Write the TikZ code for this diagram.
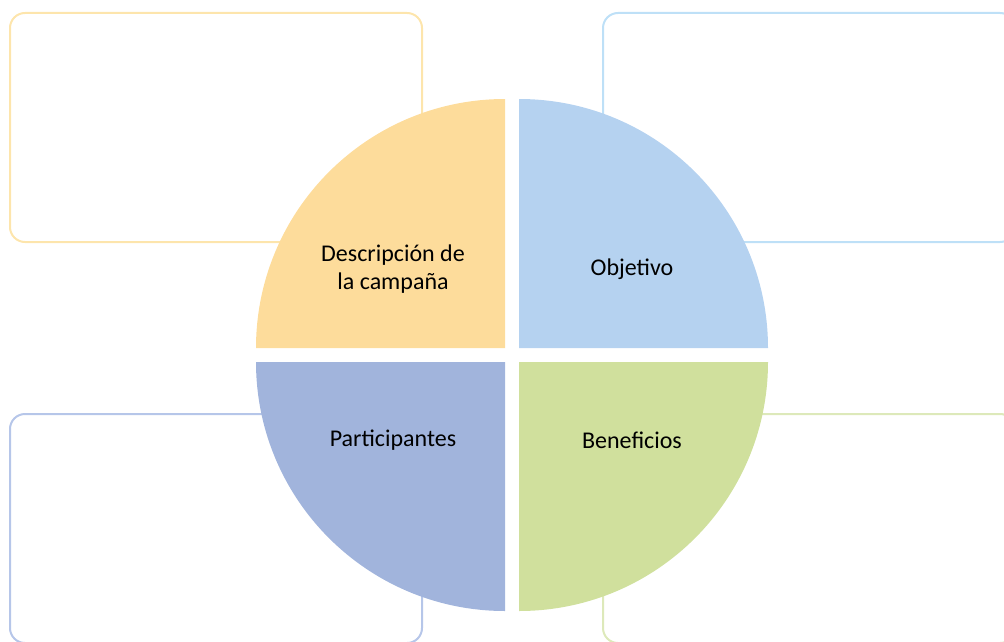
\documentclass[tikz,border=0pt]{standalone}
\usepackage{fontspec}
\setmainfont{Carlito}
\usepackage{tikz}
\usetikzlibrary{positioning}

\definecolor{descFill}{RGB}{253,220,155}
\definecolor{objFill}{RGB}{181,210,240}
\definecolor{partFill}{RGB}{161,180,220}
\definecolor{benFill}{RGB}{208,224,157}
\definecolor{descLine}{RGB}{253,229,172}
\definecolor{objLine}{RGB}{190,224,247}
\definecolor{partLine}{RGB}{182,198,233}
\definecolor{benLine}{RGB}{221,233,186}

\begin{document}
\begin{tikzpicture}[
    x=1pt, y=-1pt,
    panel/.style={draw, line width=2pt, rounded corners=15pt, minimum width=412pt, minimum height=229pt, inner sep=0pt},
    label/.style={align=center, font=\fontsize{24}{28}\selectfont, text=black},
]
\useasboundingbox (0,0) rectangle (1004,642);

% Outer panels
\node[panel, draw=descLine] (pDesc) at (216, 127.5) {};
\node[panel, draw=objLine]  (pObj)  at (809, 127.5) {};
\node[panel, draw=partLine] (pPart) at (216, 528.5) {};
\node[panel, draw=benLine]  (pBen)  at (809, 528.5) {};

% Quarters
\fill[descFill] (505,348) -- (256,348) arc[start angle=180, end angle=270, radius=249] -- cycle;
\fill[objFill]  (519,348) -- (519,99) arc[start angle=270, end angle=360, radius=249] -- cycle;
\fill[benFill]  (519,362) -- (768,362) arc[start angle=0, end angle=90, radius=249] -- cycle;
\fill[partFill] (505,362) -- (505,611) arc[start angle=90, end angle=180, radius=249] -- cycle;

% Labels
\node[label] (tDesc) at (393, 269) {Descripción de\\la campaña};
\node[label] (tObj)  at (632, 269) {Objetivo};
\node[label] (tPart) at (393, 440) {Participantes};
\node[label] (tBen)  at (632, 440) {Beneficios};
\end{tikzpicture}
\end{document}
